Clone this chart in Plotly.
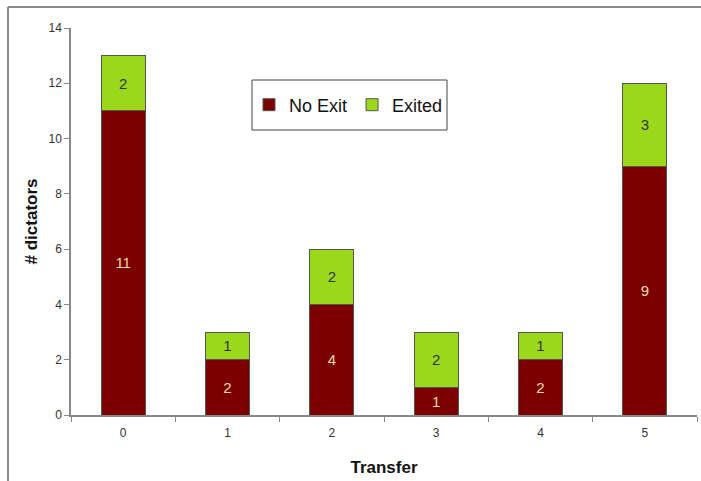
import plotly.graph_objects as go

transfer = ["0", "1", "2", "3", "4", "5"]
no_exit = [11, 2, 4, 1, 2, 9]
exited = [2, 1, 2, 2, 1, 3]
y_ticks = [0, 2, 4, 6, 8, 10, 12, 14]

W, H = 701, 481
L, R, T, B = 71, 4, 28, 66
pw, ph = W - L - R, H - T - B


def px_x(x):
    return (x - L) / pw


def px_y(y):
    return (H - B - y) / ph


fig = go.Figure()
fig.add_trace(go.Bar(
    x=transfer, y=no_exit, name="No Exit",
    marker=dict(color="#7b0000", line=dict(color="#555555", width=1)),
    text=no_exit, textposition="inside", insidetextanchor="middle",
    textfont=dict(color="#f3dca8", size=15, family="Arial"),
    width=0.42,
))
fig.add_trace(go.Bar(
    x=transfer, y=exited, name="Exited",
    marker=dict(color="#9bd81c", line=dict(color="#555555", width=1)),
    text=exited, textposition="inside", insidetextanchor="middle",
    textfont=dict(color="#333333", size=15, family="Arial"),
    width=0.42,
))

# outer frame lines
fig.add_shape(type="line", xref="paper", yref="paper",
              x0=px_x(8), x1=px_x(701), y0=px_y(7), y1=px_y(7),
              line=dict(color="#8a8a8a", width=2))
fig.add_shape(type="line", xref="paper", yref="paper",
              x0=px_x(8), x1=px_x(8), y0=px_y(7), y1=px_y(481),
              line=dict(color="#8a8a8a", width=2))

# legend box
fig.add_shape(type="rect", xref="paper", yref="paper",
              x0=px_x(252), x1=px_x(447), y0=px_y(80), y1=px_y(130),
              line=dict(color="#444444", width=1), fillcolor="white", layer="below")

fig.update_layout(
    width=W, height=H,
    margin=dict(l=L, r=R, t=T, b=B),
    barmode="stack",
    plot_bgcolor="rgba(0,0,0,0)", paper_bgcolor="white",
    font=dict(family="Arial", color="#333333"),
    showlegend=True,
    legend=dict(
        orientation="h",
        x=px_x(249), y=px_y(105), xanchor="left", yanchor="middle",
        borderwidth=0,
        bgcolor="rgba(0,0,0,0)",
        font=dict(size=18, family="Arial", color="#111111"),
        traceorder="normal",
        itemwidth=30,
    ),
    xaxis=dict(
        type="category",
        tickson="boundaries",
        ticks="outside", ticklen=5, tickcolor="#888888",
        showline=True, linecolor="#888888", linewidth=1.5,
        showgrid=False,
        tickfont=dict(size=12, color="#333333"),
        ticklabelstandoff=6,
        title=dict(text="<b>Transfer</b>", font=dict(size=17, color="#111111"), standoff=22),
        range=[-0.5, 5.5],
    ),
    yaxis=dict(
        range=[0, 14], tickvals=y_ticks,
        ticks="outside", ticklen=5, tickcolor="#888888",
        showline=True, linecolor="#888888", linewidth=1.5,
        showgrid=False, zeroline=False,
        tickfont=dict(size=12, color="#333333"),
        title=dict(text="<b># dictators</b>", font=dict(size=17, color="#111111"), standoff=7),
    ),
)

fig.write_html("out.html")
